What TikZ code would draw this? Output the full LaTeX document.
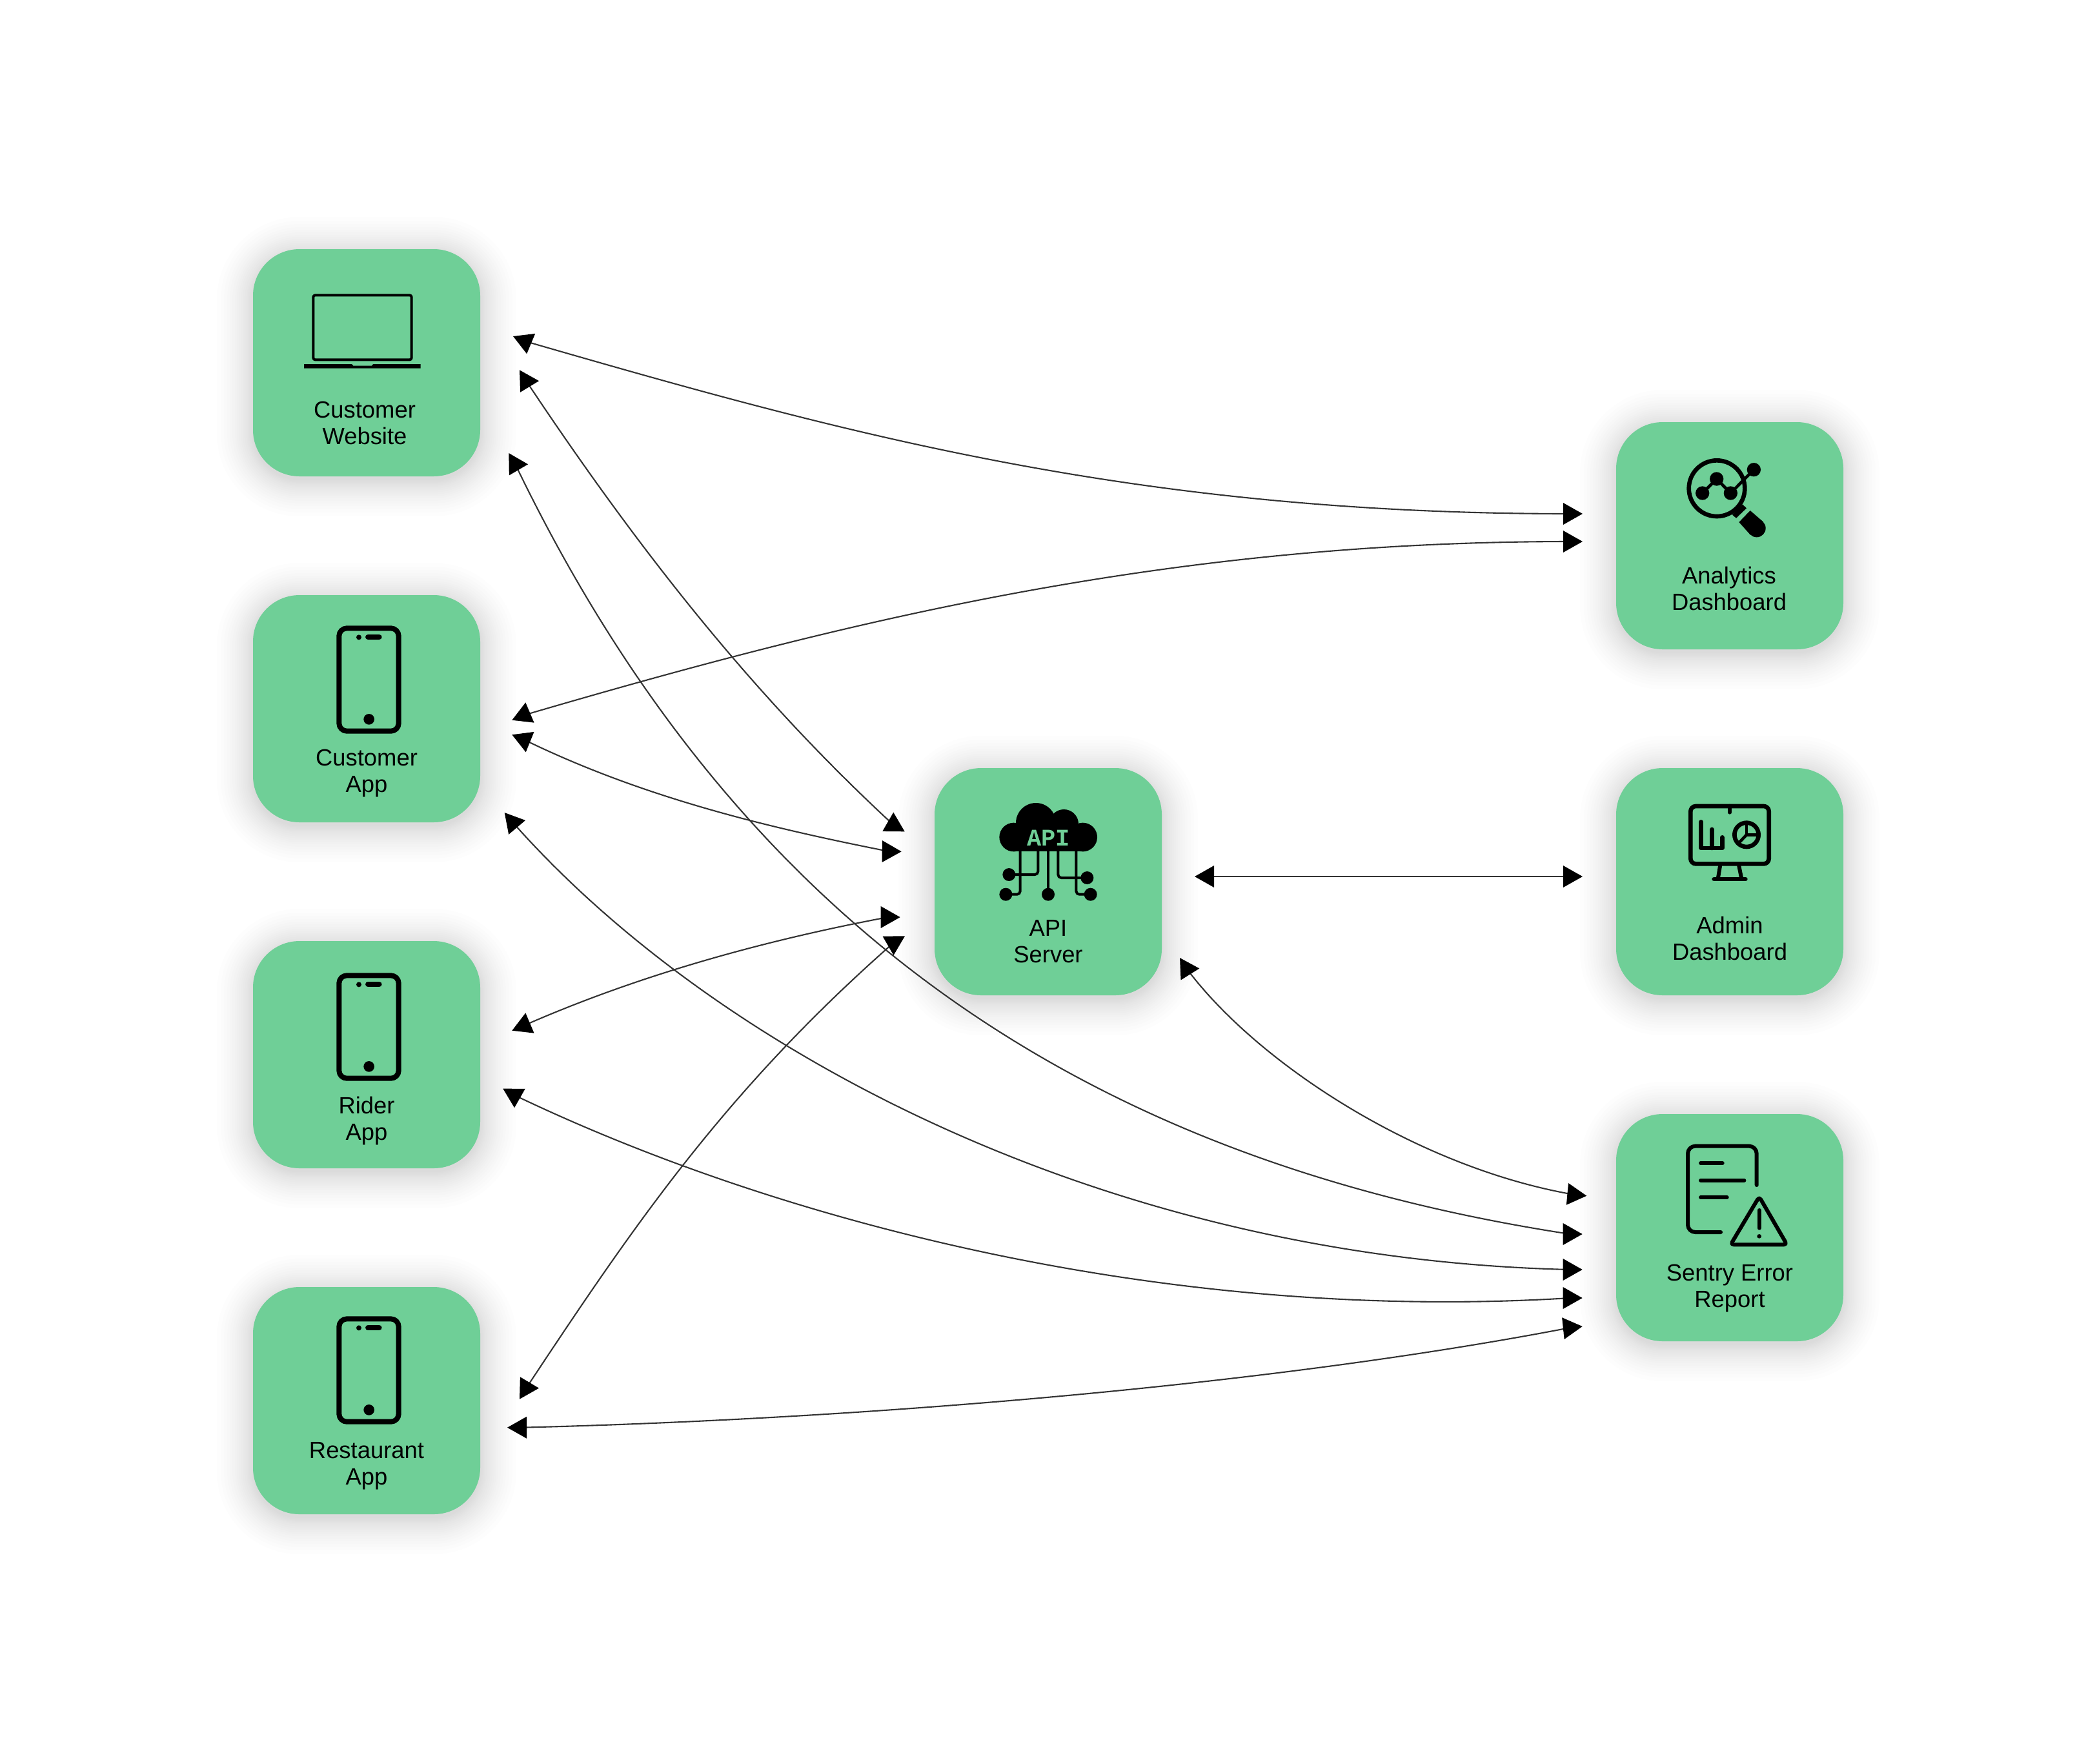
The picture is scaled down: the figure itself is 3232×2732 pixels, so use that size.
\documentclass[tikz,border=0pt]{standalone}
\usepackage{fontspec}
\setmainfont{Liberation Sans}
\newfontfamily\glyphfont{Liberation Mono}
\usetikzlibrary{arrows.meta}
\definecolor{cardgreen}{HTML}{6FCF97}
\definecolor{linkgrey}{HTML}{333333}
\tikzset{
  card/.style={rectangle,rounded corners=36pt,minimum width=176pt,minimum height=176pt,inner sep=0pt,outer sep=0pt,fill=cardgreen},
  cardtext/.style={align=center,anchor=base,inner sep=0pt,outer sep=0pt,text=black,font=\fontsize{18.2}{20.35}\selectfont},
  shadowlayer/.style={black,opacity=.006},
  headtip/.tip={Triangle[length=15pt,width=16.7pt,color=black,fill=black]},
  link/.style={draw=linkgrey,line width=1.05pt,headtip-headtip},
  iconscope/.style={x=.16667pt,y=-.16667pt,line cap=round,line join=round},
}
\newcommand\softshadow[2]{%
  \foreach \rr in {56,50,45,40,36,32,28,25,22,19,16,13,10,8,6,4,2,0}{%
    \pgfmathsetmacro\rad{36+\rr/2}%
    \fill[shadowlayer,rounded corners=\rad pt] (#1-176-\rr,#2-170-\rr) rectangle (#1+176+\rr,#2+182+\rr);
  }}
\newcommand\linkend[5]{\coordinate (#1t) at (#2,#3);\coordinate (#1c) at (#4,#5);}
\newcommand\phoneicon[2]{%
  \begin{scope}[shift={(#1,#2)},iconscope]
    \draw[line width=4pt,rounded corners=6pt] (436,190) rectangle (713,668);
    \fill (528,232) circle [radius=12];
    \draw[line width=4.3pt] (571,231) -- (622,231);
    \fill (575,613) circle [radius=25];
  \end{scope}}
\begin{document}
\begin{tikzpicture}[x=.5pt,y=-.5pt]
\useasboundingbox (0,0) rectangle (3232,2732);
\fill[white] (0,0) rectangle (3232,2732);
% shadows
\softshadow{568}{562}\softshadow{568}{1098}\softshadow{568}{1634}\softshadow{568}{2170}
\softshadow{1624}{1366}\softshadow{2680}{830}\softshadow{2680}{1366}\softshadow{2680}{1902}
% cards
\node[card] (cw) at (568,562) {};
\node[card] (ca) at (568,1098) {};
\node[card] (ra) at (568,1634) {};
\node[card] (rs) at (568,2170) {};
\node[card] (api) at (1624,1366) {};
\node[card] (an) at (2680,830) {};
\node[card] (ad) at (2680,1366) {};
\node[card] (se) at (2680,1902) {};
% labels (anchored on the baseline of their last line)
\node[cardtext] (cwl) at (565,688) {Customer\\Website};
\node[cardtext] (cal) at (568,1227) {Customer\\App};
\node[cardtext] (ral) at (568,1766) {Rider\\App};
\node[cardtext] (rsl) at (568,2300) {Restaurant\\App};
\node[cardtext] (apil) at (1624,1491) {API\\Server};
\node[cardtext] (anl) at (2679,945) {Analytics\\Dashboard};
\node[cardtext] (adl) at (2680,1487) {Admin\\Dashboard};
\node[cardtext] (sel) at (2680,2025) {Sentry Error\\Report};
% laptop
\begin{scope}[shift={(360,360)},iconscope]
  \draw[line width=2pt,rounded corners=1.5pt] (376,292) rectangle (833,592);
  \fill (333,612) -- (555,612) -- (562,620) -- (648,620) -- (655,612) -- (875,612) -- (875,632) -- (333,632) -- cycle;
\end{scope}
% phones
\phoneicon{380}{910}\phoneicon{380}{1448}\phoneicon{380}{1980}
% analytics
\begin{scope}[shift={(2480,630)},iconscope]
  \draw[line width=3.33pt] (540,380) circle [radius=130];
  \fill (612,503) -- (660,455) -- (678,472) -- (630,518) -- cycle;
  \fill (643,537) -- (695,483) -- (755,535) -- (695,595) -- cycle;
  \fill (725,565) circle [radius=42];
  \draw[line width=2.33pt] (473,402) -- (539,336) -- (604,402) -- (712,293);
  \foreach \px/\py in {473/402,539/336,604/402,712/293}{\fill (\px,\py) circle [radius=32];}
\end{scope}
% cloud
\begin{scope}[shift={(1430,1170)},iconscope]
  \fill (422,381) circle [radius=67];
  \fill (743,381) circle [radius=67];
  \fill (525,315) circle [radius=93];
  \fill (655,320) circle [radius=68];
  \fill (422,340) rectangle (743,448);
  \node[inner sep=0pt,text=cardgreen,font=\glyphfont\bfseries\fontsize{18.5}{18.5}\selectfont] (apiglyph) at (584,384) {API};
  \draw[line width=2pt,rounded corners=2.5pt] (452,448) -- (452,647) -- (385,647);
  \draw[line width=2pt,rounded corners=2.5pt] (535,448) -- (535,555) -- (400,555);
  \draw[line width=2pt] (582,448) -- (582,647);
  \draw[line width=2pt,rounded corners=2.5pt] (628,448) -- (628,570) -- (763,570);
  \draw[line width=2pt,rounded corners=2.5pt] (712,448) -- (712,647) -- (779,647);
  \foreach \px/\py in {385/647,400/555,582/647,763/570,779/647}{\fill (\px,\py) circle [radius=30];}
\end{scope}
% monitor
\begin{scope}[shift={(2480,1170)},iconscope]
  \draw[line width=3.33pt,rounded corners=4pt] (418,237) rectangle (782,505);
  \draw[line width=3.33pt] (600,237) -- (600,265);
  \draw[line width=3.33pt] (467,310) -- (467,432) -- (565,432) -- (565,382);
  \draw[line width=3.33pt] (517,345) -- (517,432);
  \draw[line width=3.33pt] (678,370) circle [radius=56];
  \draw[line width=2.33pt,line cap=butt] (678,310) -- (678,370) -- (735,370);
  \draw[line width=2.33pt,line cap=butt] (678,370) -- (640,410);
  \draw[line width=3pt] (555,515) -- (545,575);
  \draw[line width=3pt] (643,515) -- (655,575);
  \draw[line width=3.33pt] (527,576) -- (673,576);
\end{scope}
% report
\begin{scope}[shift={(2480,1710)},iconscope]
  \draw[line width=3pt,rounded corners=5.8pt] (725,378) -- (725,197) -- (405,197) -- (405,597) -- (558,597);
  \draw[line width=3pt] (465,276) -- (566,276);
  \draw[line width=3pt] (465,356) -- (667,356);
  \draw[line width=3pt] (465,435) -- (587,435);
  \draw[line width=3pt,rounded corners=2.5pt] (737,432) -- (866,655) -- (604,655) -- cycle;
  \draw[line width=3pt] (737,495) -- (737,578);
  \fill (737,616) circle [radius=10];
\end{scope}
% connector ends: name, tip x,y, centre x,y
\linkend{cwAn}{795}{521}{813}{528.5}
\linkend{anCw}{2452}{796}{2432}{796}
\linkend{caAn}{793.3}{1115.7}{811}{1108.2}
\linkend{anCa}{2452}{839}{2432}{839}
\linkend{cwApi}{805}{573.3}{815}{589.8}
\linkend{apiCw}{1401.7}{1288.3}{1384.8}{1278.5}
\linkend{cwSe}{788.3}{702}{798.2}{718.9}
\linkend{seCw}{2451.7}{1912}{2432.4}{1912}
\linkend{caApi}{793.3}{1138.3}{811}{1145.5}
\linkend{apiCa}{1396.7}{1319.3}{1377.1}{1319.1}
\linkend{caSe}{781.7}{1259}{794.5}{1274.1}
\linkend{seCa}{2451.7}{1967}{2432.4}{1967}
\linkend{raApi}{793.3}{1596.7}{811}{1589.2}
\linkend{apiRa}{1394.7}{1421}{1375.4}{1421}
\linkend{raSe}{779.3}{1686.7}{796.6}{1696.5}
\linkend{seRa}{2451.7}{2011}{2432.4}{2011}
\linkend{rsApi}{805}{2167.7}{815}{2151}
\linkend{apiRs}{1402}{1450.3}{1385.2}{1460}
\linkend{rsSe}{786}{2211.7}{805.5}{2211.7}
\linkend{seRs}{2451.7}{2055}{2432.5}{2057}
\linkend{apiAd}{1851}{1358}{1871}{1358}
\linkend{adApi}{2452}{1358}{2432}{1358}
\linkend{apiSe}{1828}{1484}{1838}{1500}
\linkend{seApi}{2458.3}{1852.7}{2439.2}{1850.9}
% connectors
\draw[link] (cwAnt) -- (cwAnc) .. controls (1300,669) and (1750,796) .. (anCwc) -- (anCwt);
\draw[link] (caAnt) -- (caAnc) .. controls (1300,965) and (1800,839) .. (anCac) -- (anCat);
\draw[link] (cwApit) -- (cwApic) .. controls (1008,880) and (1185,1094) .. (apiCwc) -- (apiCwt);
\draw[link] (cwSet) -- (cwSec) .. controls (1150,1450) and (1700,1800) .. (seCwc) -- (seCwt);
\draw[link] (caApit) -- (caApic) .. controls (1000,1238) and (1200,1284) .. (apiCac) -- (apiCat);
\draw[link] (caSet) -- (caSec) .. controls (1100,1620) and (1700,1950) .. (seCac) -- (seCat);
\draw[link] (raApit) -- (raApic) .. controls (1000,1506) and (1200,1454) .. (apiRac) -- (apiRat);
\draw[link] (raSet) -- (raSec) .. controls (1200,1890) and (1800,2050) .. (seRac) -- (seRat);
\draw[link] (rsApit) -- (rsApic) .. controls (980,1902) and (1122,1691) .. (apiRsc) -- (apiRst);
\draw[link] (rsSet) -- (rsSec) .. controls (1300,2200) and (1950,2150) .. (seRsc) -- (seRst);
\draw[link] (apiAdt) -- (apiAdc) -- (adApic) -- (adApit);
\draw[link] (apiSet) -- (apiSec) .. controls (1950,1650) and (2200,1810) .. (seApic) -- (seApit);
\end{tikzpicture}
\end{document}
